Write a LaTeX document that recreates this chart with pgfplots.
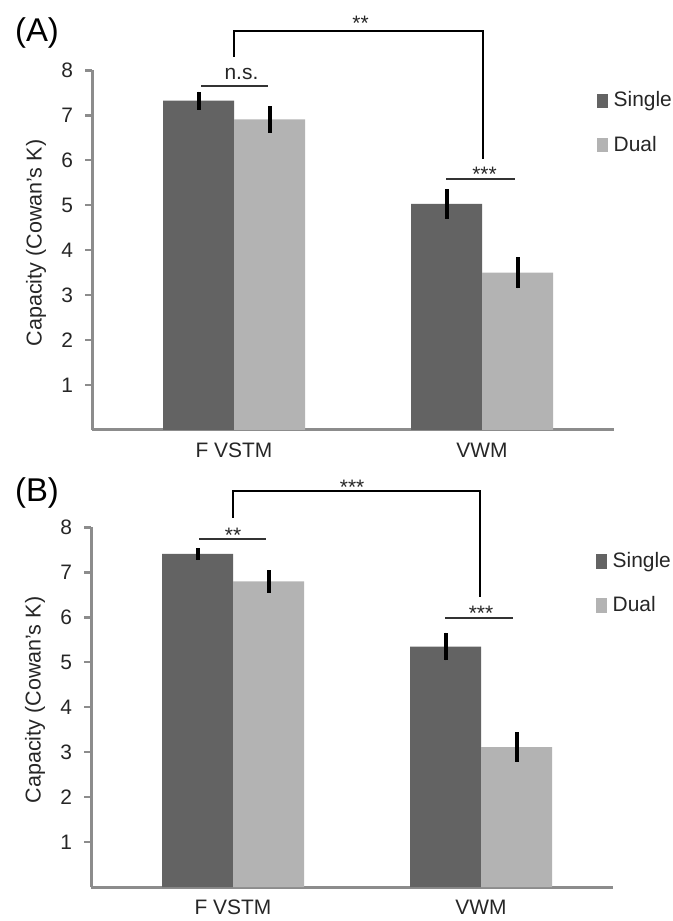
\documentclass[border=0pt]{standalone}
\usepackage{pgfplots}
\pgfplotsset{compat=1.18}
\usepackage{fontspec}
\setmainfont{Liberation Sans}

\definecolor{single}{HTML}{636363}
\definecolor{dual}{HTML}{B3B3B3}
\definecolor{axgray}{HTML}{8C8C8C}

\newcommand{\lab}{\fontsize{10.5}{12}\selectfont}

\pgfplotsset{
  kplot/.style={
    scale only axis, width=261bp, height=179.8bp,
    anchor=south west,
    ybar=0pt, bar width=35.5bp,
    xmin=-0.5726, xmax=1.532, ymin=0, ymax=8,
    axis lines*=left,
    axis line style={axgray, line width=1.5bp},
    xtick={0,1}, xticklabels={F VSTM, VWM},
    major x tick style={draw=none},
    ytick={1,2,...,8},
    major y tick style={axgray, line width=1.2bp},
    tick align=outside, major tick length=3.5bp,
    tick label style={font=\lab, text=black!85},
    xticklabel style={yshift=0.5bp},
    yticklabel style={xshift=-2.5bp},
    /pgf/number format/assume math mode=true,
    ylabel={Capacity (Cowan's K)},
    ylabel style={font=\fontsize{10.8}{12}\selectfont, text=black!85,
      at={(axis description cs:-0.107,0.52)}, anchor=center},
    clip=false,
    error bars/y dir=both, error bars/y explicit,
    error bars/error mark=none,
    error bars/error bar style={line width=2bp, black},
    legend image code/.code={\fill[##1] (0bp,-3.6bp) rectangle (5.5bp,3.6bp);},
    legend cell align=left,
    legend style={draw=none, fill=none, font=\lab, inner sep=0pt, row sep=10bp,
      anchor=north west, nodes={inner sep=1.5bp, inner xsep=3bp, text=black!85}},
  },
}
\tikzset{
  sigline/.style={draw=black!80, line width=1bp},
  bracket/.style={draw=black, line width=1bp},
  star/.style={font=\lab, anchor=base, text=black!85},
  panel/.style={font=\fontsize{16.5}{19}\selectfont},
}

\begin{document}
\begin{tikzpicture}
% panel A
\begin{axis}[kplot, at={(46bp,245.5bp)},
  legend style={at={(rel axis cs:0.966,0.95)}}]
\addplot[fill=single, draw=none] coordinates {(0,7.33) +- (0,0.20) (1,5.03) +- (0,0.33)};
\addlegendentry{Single}
\addplot[fill=dual, draw=none] coordinates {(0,6.91) +- (0,0.30) (1,3.50) +- (0,0.35)};
\addlegendentry{Dual}
\draw[bracket] (axis cs:0,8.30) |- (axis cs:1.004,8.87) -- (axis cs:1.004,6.03);
\node[star] at (axis cs:0.51,8.88) {**};
\draw[sigline] (axis cs:-0.133,7.66) -- (axis cs:0.137,7.66);
\node[star] at (axis cs:0.03,7.79) {n.s.};
\draw[sigline] (axis cs:0.855,5.58) -- (axis cs:1.133,5.58);
\node[star] at (axis cs:1.01,5.52) {***};
\end{axis}
% panel B
\begin{axis}[kplot, at={(45.5bp,17bp)},
  legend style={at={(rel axis cs:0.966,0.94)}}]
\addplot[fill=single, draw=none] coordinates {(0,7.41) +- (0,0.13) (1,5.35) +- (0,0.31)};
\addlegendentry{Single}
\addplot[fill=dual, draw=none] coordinates {(0,6.80) +- (0,0.25) (1,3.11) +- (0,0.33)};
\addlegendentry{Dual}
\draw[bracket] (axis cs:0,8.21) |- (axis cs:0.995,8.81) -- (axis cs:0.995,6.46);
\node[star] at (axis cs:0.48,8.74) {***};
\draw[sigline] (axis cs:-0.137,7.75) -- (axis cs:0.133,7.75);
\node[star] at (axis cs:0,7.66) {**};
\draw[sigline] (axis cs:0.855,5.99) -- (axis cs:1.128,5.99);
\node[star] at (axis cs:1.0,5.93) {***};
\end{axis}
\node[panel] at (18.5bp,444bp) {(A)};
\node[panel] at (18.5bp,214bp) {(B)};
\pgfresetboundingbox
\useasboundingbox (0,0) rectangle (336.5bp,460.5bp);
\end{tikzpicture}
\end{document}
